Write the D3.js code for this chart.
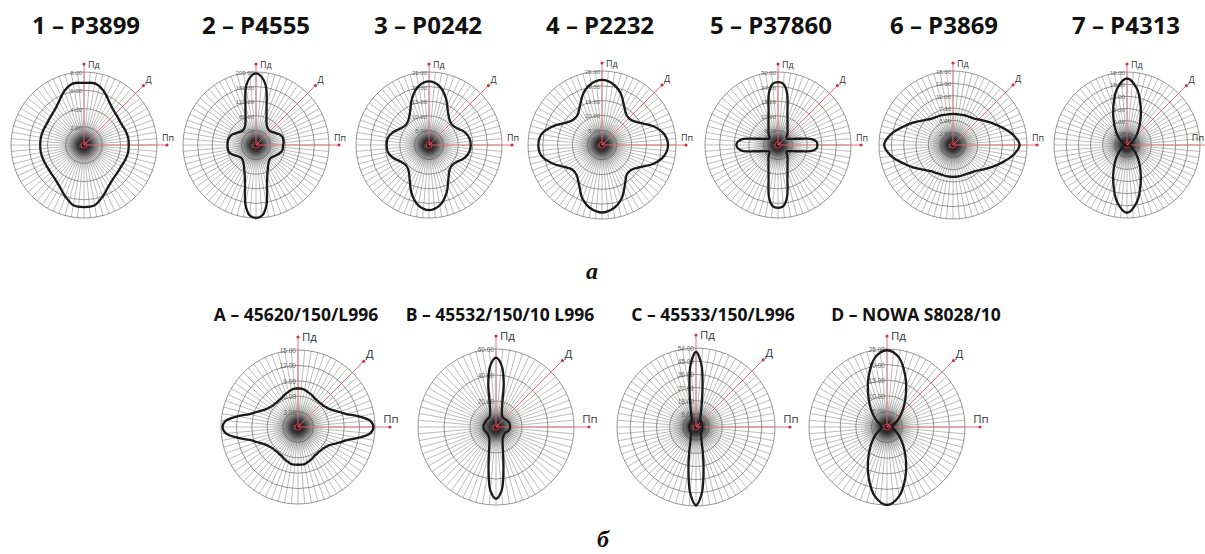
<!DOCTYPE html>
<html><head><meta charset="utf-8">
<script src="https://cdn.jsdelivr.net/npm/d3@7"></script>
<style>body{margin:0;background:#fff}</style>
</head><body>
<svg id="c" width="1205" height="554"></svg>
<script>
// ---------- DATA ----------
const titles = ["1 – P3899","2 – P4555","3 – P0242","4 – P2232","5 – P37860","6 – P3869","7 – P4313",
  "A – 45620/150/L996","B – 45532/150/10 L996","C – 45533/150/L996","D – NOWA S8028/10"];
const axisLabels = ["Пд","Д","Пп"];
const rowLabels = ["а","б"];

const p1Ticks = [0,2,4,6,8];
const p2Ticks = [0,40,80,120,160,200];
const p3Ticks = [0,5,10,15,20,25];
const p4Ticks = [0,5,10,15,20,25];
const p5Ticks = [0,6,12,18,24,30];
const p6Ticks = [0,2.5,5,7.5,10,12.5,15];
const p7Ticks = [0,3,6,9,12,15,18];
const pATicks = [0,3,6,9,12,15];
const pBTicks = [0,20,40,60];
const pCTicks = [0,9,18,27,36,45,54];
const pDTicks = [0,5,10,15,20,25];

// values clockwise from Пд (top), equal angular steps
const p1Values = [6.8,6.85,6.3,5.5,5.0,4.8,4.7,4.8,4.9,4.9,4.9,4.8,4.7,4.75,4.9,5.3,6.0,6.7,
  6.8,6.7,6.0,5.3,4.9,4.75,4.7,4.75,4.8,4.8,4.8,4.75,4.7,4.8,5.0,5.5,6.3,6.85];
const p2Values = [196,186,160,112,84,68,60,56,54,54,56,60,64,70,74,76,76,76,
  74,74,74,72,68,64,60,56,54,54,56,60,66,76,90,116,166,194,
  200,194,166,116,90,76,66,60,56,54,54,56,60,66,72,76,78,78,
  78,78,78,76,74,70,64,60,56,54,54,56,60,68,84,112,160,186];
const p3Values = [21.8,20.5,17,13,11,10.5,11.3,13,14,14.3,14,13,11.3,10.5,11,13.3,17.5,21,
  22.3,21,17.5,13.3,11,10.5,11.3,13,14.3,14.5,14.3,13,11.3,10.5,11,13,17,20.5];
const p4Values = [22,21,18.5,15,13,13,15,18.5,21.3,22.3,21.3,18.5,15,13,13,15.5,19.3,21.8,
  22.8,21.8,19.3,15.5,13.3,13,14.8,18,20.8,21.5,20.8,18,14.8,13,13,15,18.5,21];
const p5Values = [25.8,25.2,21.6,15,11.4,9.3,7.8,6.9,6,5.1,4.5,4.5,5.1,6,7.5,9.9,14.1,15.9,
  16.2,15.9,14.1,9.9,7.5,6,5.1,4.5,4.5,5.1,6,6.9,7.8,9.3,11.4,15,21.6,25.2,
  25.8,25.2,21.6,15,11.4,9.3,7.8,6.9,6,5.1,4.5,4.5,5.1,6,7.5,9.9,14.4,16.5,
  17.1,16.5,14.4,9.9,7.5,6,5.1,4.5,4.5,5.1,6,6.9,7.8,9.3,11.4,15,21.6,25.2];
const p6Values = [6.3,6.3,6.45,6.6,6.9,7.8,9.0,10.5,12.3,13.5,12.3,10.5,9.0,7.8,6.9,6.6,6.45,6.45,
  6.45,6.45,6.45,6.6,6.9,7.8,9.15,10.8,12.75,13.95,12.75,10.8,9.15,7.8,6.9,6.6,6.45,6.3];
const p7Values = [16.4,14.1,9.9,6.5,4.1,2.5,1.4,0.9,0.7,0.7,0.7,0.9,1.4,2.5,4.1,6.5,9.9,14.2,
  16.7,14.2,9.9,6.5,4.1,2.5,1.4,0.9,0.7,0.7,0.7,0.9,1.4,2.5,4.1,6.5,9.9,14.1];
const pAValues = [7.5,7.5,7.35,7.1,6.9,6.7,6.45,6.4,6.3,6.4,6.45,6.7,7.05,7.65,8.55,9.75,12.0,14.1,
  14.7,14.1,12.0,9.9,8.7,7.8,7.05,6.7,6.45,6.4,6.3,6.4,6.45,6.7,6.9,7.1,7.35,7.35,
  7.35,7.35,7.35,7.1,6.9,6.7,6.45,6.4,6.3,6.4,6.45,6.7,7.05,7.65,8.55,9.75,12.0,14.1,
  14.7,14.1,12.0,9.75,8.55,7.65,7.05,6.7,6.45,6.4,6.3,6.4,6.45,6.7,6.9,7.1,7.35,7.5];
const pBValues = [53.4,48,34.2,18.6,13.2,10.8,9.6,9,9,9,9.3,9.6,9.9,10.2,10.5,10.8,10.8,10.8,
  10.8,10.8,10.5,10.2,9.6,9,8.4,8.4,8.4,8.4,9,9.6,10.2,12,15,21,33,49.2,
  55.2,49.2,33,21,15,12,10.2,9.6,9,8.4,8.4,8.4,8.4,8.7,9,9.3,9.6,9.6,
  9.6,9.6,9.6,9.3,9.3,9,9,9,9,9,9,9,9.6,10.8,13.2,18.6,34.2,48];
const pCValues = [51.3,42.7,25.4,14.6,9.5,7,5.9,5.4,4.9,4.9,4.6,4.3,4.3,4.3,4.3,4.3,4.3,4.3,
  4.3,4.3,4.3,4.3,4.3,4.6,4.6,4.9,4.9,4.9,5.4,5.9,7,8.6,11.3,18,29.7,45.4,
  53.5,45.4,29.7,18,11.3,8.6,7,5.9,5.4,4.9,4.9,4.9,4.6,4.6,4.6,4.6,4.6,4.6,
  4.6,4.6,4.6,4.6,4.6,4.6,4.6,4.6,4.9,4.9,4.9,5.4,5.9,7,9.5,14.6,25.4,42.7];
const pDValues = [24.6,22.5,17.2,12.1,8.3,5.6,3.7,2.3,1.9,1.8,1.9,2.3,3.7,5.6,8.3,12.1,17.2,22.5,
  25,22.5,17.2,12.1,8.3,5.6,3.7,2.3,1.9,1.8,1.9,2.3,3.7,5.6,8.3,12.1,17.2,22.5];

// ---------- LAYOUT ----------
const plots = [
  {title:titles[0], values:p1Values, ticks:p1Ticks, cx:84,  cy:145, R:73, tx:86,  ty:34, fs:24, small:true},
  {title:titles[1], values:p2Values, ticks:p2Ticks, cx:256, cy:145, R:73, tx:256, ty:34, fs:24, small:true},
  {title:titles[2], values:p3Values, ticks:p3Ticks, cx:429, cy:145, R:73, tx:428, ty:34, fs:24, small:true},
  {title:titles[3], values:p4Values, ticks:p4Ticks, cx:602, cy:145, R:74, tx:600, ty:34, fs:24, small:true},
  {title:titles[4], values:p5Values, ticks:p5Ticks, cx:778, cy:145, R:73, tx:771, ty:34, fs:24, small:true},
  {title:titles[5], values:p6Values, ticks:p6Ticks, cx:953, cy:145, R:74, tx:944, ty:34, fs:24, small:true},
  {title:titles[6], values:p7Values, ticks:p7Ticks, cx:1127,cy:145, R:73, tx:1126, ty:34, fs:24, small:true},
  {title:titles[7], values:pAValues, ticks:pATicks, cx:298, cy:427, R:77, tx:296, ty:321, fs:17.5, small:false},
  {title:titles[8], values:pBValues, ticks:pBTicks, cx:496, cy:427, R:78, tx:500, ty:321, fs:17.5, small:false},
  {title:titles[9], values:pCValues, ticks:pCTicks, cx:696, cy:427, R:79, tx:713, ty:321, fs:17.5, small:false},
  {title:titles[10],values:pDValues, ticks:pDTicks, cx:887, cy:427, R:78, tx:916, ty:321, fs:17.5, small:false}
];

const svg = d3.select("#c");
const defs = svg.append("defs");
const grad = defs.append("radialGradient").attr("id","blob");
grad.append("stop").attr("offset","0%").attr("stop-color","#2a0a0a").attr("stop-opacity",1);
grad.append("stop").attr("offset","25%").attr("stop-color","#111").attr("stop-opacity",0.75);
grad.append("stop").attr("offset","60%").attr("stop-color","#444").attr("stop-opacity",0.25);
grad.append("stop").attr("offset","100%").attr("stop-color","#888").attr("stop-opacity",0);

const RED = "#e0647a";
const fmt = d3.format(".2f");

plots.forEach((p, idx) => {
  const g = svg.append("g").attr("transform", `translate(${p.cx},${p.cy})`);
  const max = p.ticks[p.ticks.length-1];
  const r = d3.scaleLinear().domain([0, max]).range([0, p.R]);
  const n = p.values.length;

  // spokes (72, every 5 degrees)
  const spokeAngles = d3.range(0, 360, 5);
  g.selectAll(".spoke").data(spokeAngles).join("line")
    .attr("x1",0).attr("y1",0)
    .attr("x2", a => r(max)*Math.sin(a*Math.PI/180))
    .attr("y2", a => -r(max)*Math.cos(a*Math.PI/180))
    .attr("stroke","#858585").attr("stroke-width",0.55);

  // rings
  g.selectAll(".ring").data(p.ticks.slice(1)).join("circle")
    .attr("r", d => r(d)).attr("fill","none")
    .attr("stroke","#737373").attr("stroke-width",0.75);

  // dark centre
  g.append("circle").attr("r", p.R*0.36).attr("fill","url(#blob)");

  // red axes
  const ext = p.small ? 8 : 13;
  const L = p.R + ext;
  const d45 = Math.PI/4;
  const axes = [
    {x:0, y:-L},
    {x:(L+3)*Math.sin(d45), y:-(L+3)*Math.cos(d45)},
    {x:L+2, y:0}
  ];
  axes.forEach(a => {
    g.append("line").attr("x1",0).attr("y1",0).attr("x2",a.x).attr("y2",a.y)
      .attr("stroke",RED).attr("stroke-width",0.9);
    g.append("circle").attr("cx",a.x).attr("cy",a.y).attr("r",1.6).attr("fill","#d03050");
  });
  g.append("circle").attr("r",3).attr("fill","none").attr("stroke","#c03040").attr("stroke-width",1.2);

  const afs = p.small ? 9 : 11.5;
  const afam = "'Open Sans', sans-serif";
  g.append("text").attr("x",4).attr("y",-L+4).text(axisLabels[0])
    .attr("font-size",afs).attr("font-family",afam).attr("fill","#333");
  g.append("text").attr("x",axes[1].x+2).attr("y",axes[1].y-3).text(axisLabels[1])
    .attr("font-size",afs).attr("font-family",afam).attr("fill","#333");
  const last = idx === 6;
  g.append("text").attr("x", last ? 1204 - p.cx : L+3).attr("y",-4)
    .attr("text-anchor", last ? "end" : "middle").text(axisLabels[2])
    .attr("font-size",afs).attr("font-family",afam).attr("fill","#333");

  // tick labels
  g.selectAll(".tl").data(p.ticks).join("text")
    .attr("x",-2).attr("y", d => -r(d)+ (d===0?2.5:3))
    .attr("text-anchor","end")
    .attr("font-size", p.small ? 6 : 6.5).attr("font-family","'Liberation Sans', sans-serif")
    .attr("fill","#666")
    .text(d => d===0 ? "0" : fmt(d));

  // data curve
  const line = d3.lineRadial()
    .angle((d,i) => i*2*Math.PI/n)
    .radius(d => r(d))
    .curve(d3.curveCatmullRomClosed.alpha(0.5));
  g.append("path").attr("d", line(p.values))
    .attr("fill","none").attr("stroke","#1a1a1a").attr("stroke-width",2.3)
    .attr("stroke-linejoin","round");

  // title
  svg.append("text").attr("x",p.tx).attr("y",p.ty).attr("text-anchor","middle")
    .attr("font-family","'Open Sans', sans-serif").attr("font-weight",700)
    .attr("font-size",p.fs).attr("fill","#111").text(p.title);
});

// row labels
svg.append("text").attr("x",592).attr("y",279).attr("text-anchor","middle")
  .attr("font-family","'Liberation Serif', serif").attr("font-style","italic").attr("font-weight",700)
  .attr("font-size",24).attr("fill","#111").text(rowLabels[0]);
svg.append("text").attr("x",603).attr("y",547).attr("text-anchor","middle")
  .attr("font-family","'Liberation Serif', serif").attr("font-style","italic").attr("font-weight",700)
  .attr("font-size",24).attr("fill","#111").text(rowLabels[1]);
</script>
</body></html>
